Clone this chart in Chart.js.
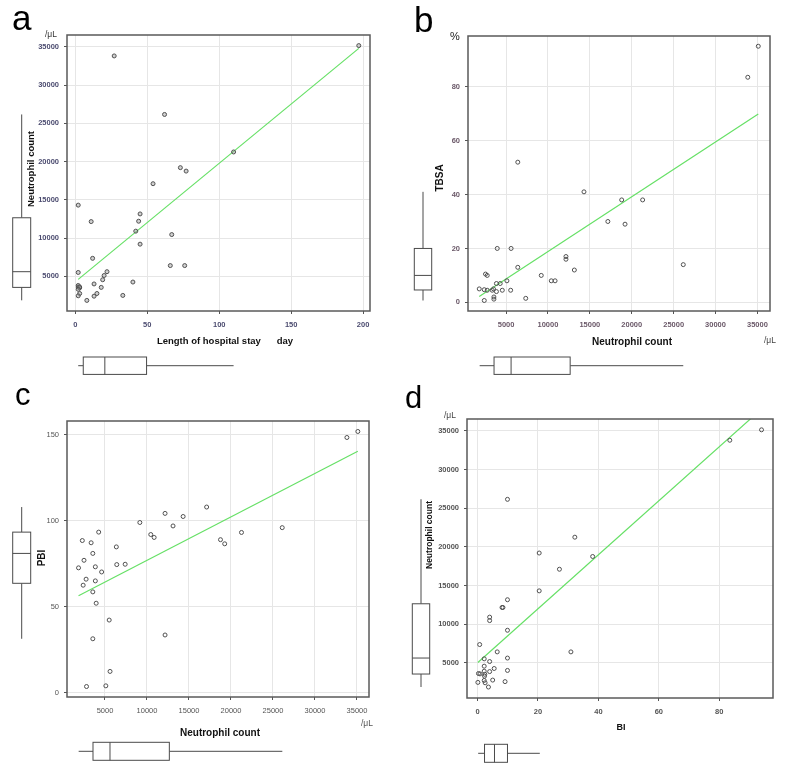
<!DOCTYPE html>
<html>
<head>
<meta charset="utf-8">
<script src="https://cdn.jsdelivr.net/npm/chart.js@4.4.1/dist/chart.umd.min.js"></script>
<style>
  html, body { margin: 0; padding: 0; background: #fff; }
  #fig { position: relative; width: 787px; height: 768px; background: #fff; }
  canvas { position: absolute; }
</style>
</head>
<body>
<div id="fig">
  <canvas id="chartA" width="390" height="385" style="left:0;top:0"></canvas>
  <canvas id="chartB" width="397" height="385" style="left:390px;top:0"></canvas>
  <canvas id="chartC" width="390" height="383" style="left:0;top:385px"></canvas>
  <canvas id="chartD" width="397" height="383" style="left:390px;top:385px"></canvas>
</div>
<script>
const FONT = "'Liberation Sans', Arial, sans-serif";

// ===============================
// a: length of hospital stay vs neutrophil count
// ===============================
const aStay = [197, 27, 62, 110, 73, 77, 54, 2, 45, 44, 11, 42, 67, 45, 12, 66, 76, 2, 22, 20,
  19, 40, 13, 2, 2, 3, 3, 18, 2, 15, 3, 2, 13, 33, 8];
const aNeutro = [35150, 33800, 26150, 21250, 19200, 18750, 17100, 14300, 13150, 12200, 12150, 10900, 10450, 9200, 7350, 6400, 6400, 5500, 5600, 5100,
  4550, 4250, 4000, 3800, 3600, 3500, 3600, 3550, 3300, 2750, 2750, 2450, 2400, 2500, 1850];
const aFit = [4290, 154.8]; // intercept, slope
const aXTicks = [0, 50, 100, 150, 200];
const aYTicks = [5000, 10000, 15000, 20000, 25000, 30000, 35000];
const aBoxNeutro = [1860, 3550, 5600, 12650, 26150]; // min, q1, median, q3, max
const aBoxStay = [2, 5.5, 20.5, 49.5, 110];

// ===============================
// b: neutrophil count vs TBSA
// ===============================
const bNeutro = [35100, 33850, 6400, 14300, 18800, 21300, 17150, 19200, 26150, 12150, 12150, 13150, 9200, 10400, 10850, 6400, 3950, 5600, 5100, 7350,
  5550, 4550, 4300, 3850, 3850, 2550, 2750, 1800, 2400, 2750, 3350, 3500, 3550, 3550, 2400];
const bTbsa = [95, 83.5, 52, 41, 38, 38, 30, 29, 14, 17, 16, 12, 10, 8, 8, 13, 20, 20, 8, 1.5,
  4.5, 4.5, 7, 7, 4, 10.5, 10, 5, 4.7, 4.5, 4.5, 5, 2, 1.2, 0.7];
const bFit = [-1.5, 0.002033];
const bXTicks = [5000, 10000, 15000, 20000, 25000, 30000, 35000];
const bYTicks = [0, 20, 40, 60, 80];
const bBoxTbsa = [0.7, 4.6, 10, 20, 41];
const bBoxNeutro = [1850, 3566, 5600, 12650, 26150];

// ===============================
// c: neutrophil count vs PBI
// ===============================
const cNeutro = [35100, 33800, 17100, 12150, 14300, 9150, 13100, 10450, 10850, 4250, 21250, 26100, 18750, 19250, 2300, 3350, 6350, 3550, 2500, 3850,
  1850, 6400, 7400, 4600, 2750, 3850, 2400, 3550, 3950, 5500, 12150, 3550, 5600, 2800, 5100];
const cPbi = [152, 148.5, 108, 104.3, 102.5, 99, 97, 92, 90.3, 93.4, 93.2, 96, 89, 86.6, 88.5, 87.2, 84.8, 81, 77, 73.2,
  72.6, 74.5, 74.7, 70.2, 66, 65, 62.5, 58.6, 52, 42.2, 33.5, 31.3, 12.3, 3.5, 3.9];
const cFit = [51.7, 0.002529];
const cXTicks = [5000, 10000, 15000, 20000, 25000, 30000, 35000];
const cYTicks = [0, 50, 100, 150];
const cBoxPbi = [31.3, 63.6, 81, 93.4, 108];
const cBoxNeutro = [1865, 3571, 5595, 12659, 26111];

// ===============================
// d: BI vs neutrophil count
// ===============================
const dBi = [94, 83.5, 9.9, 32.2, 20.4, 38.1, 27.1, 20.4, 9.9, 8.1, 8.4, 4, 4, 9.9, 0.7, 6.5, 30.9, 2.2, 9.9, 4,
  2.2, 5.5, 9.9, 2.2, 4, 0.3, 0.8, 2.4, 2.3, 5, 2.2, 9.1, 0.1, 2.5, 3.6];
const dNeutro = [35150, 33800, 26150, 21250, 19200, 18750, 17100, 14300, 13150, 12150, 12150, 10900, 10450, 9200, 7350, 6400, 6400, 5500, 5600, 5150,
  4550, 4250, 4000, 3900, 3850, 3600, 3550, 3500, 3250, 2750, 2700, 2550, 2450, 2400, 1850];
const dFit = [5000, 349.4];
const dXTicks = [0, 20, 40, 60, 80];
const dYTicks = [5000, 10000, 15000, 20000, 25000, 30000, 35000];
const dBoxNeutro = [1853, 3534, 5603, 12629, 26164];
const dBoxBi = [0.2, 2.3, 5.6, 9.9, 20.6];

// boxplot: stats = [min, q1, median, q3, max], drawn on the chart's own scale
function drawBox(ctx, scale, stats, center, half, vertical) {
  const p = stats.map(v => scale.getPixelForValue(v));
  ctx.save();
  ctx.strokeStyle = "#4a4a4a";
  ctx.lineWidth = 1;
  ctx.beginPath();
  if (vertical) {
    ctx.moveTo(center, p[0]); ctx.lineTo(center, p[1]);
    ctx.moveTo(center, p[3]); ctx.lineTo(center, p[4]);
    ctx.stroke();
    ctx.fillStyle = "#fff";
    ctx.fillRect(center - half, p[3], 2 * half, p[1] - p[3]);
    ctx.strokeRect(center - half, p[3], 2 * half, p[1] - p[3]);
    ctx.beginPath();
    ctx.moveTo(center - half, p[2]); ctx.lineTo(center + half, p[2]);
    ctx.stroke();
  } else {
    ctx.moveTo(p[0], center); ctx.lineTo(p[1], center);
    ctx.moveTo(p[3], center); ctx.lineTo(p[4], center);
    ctx.stroke();
    ctx.fillStyle = "#fff";
    ctx.fillRect(p[1], center - half, p[3] - p[1], 2 * half);
    ctx.strokeRect(p[1], center - half, p[3] - p[1], 2 * half);
    ctx.beginPath();
    ctx.moveTo(p[2], center - half); ctx.lineTo(p[2], center + half);
    ctx.stroke();
  }
  ctx.restore();
}

function drawText(ctx, t) {
  ctx.save();
  ctx.fillStyle = t.color || "#111";
  ctx.font = (t.bold ? "bold " : "") + t.size + "px " + FONT;
  ctx.textAlign = t.align || "center";
  ctx.textBaseline = t.base || "middle";
  ctx.translate(t.x, t.y);
  if (t.rot) ctx.rotate(-Math.PI / 2);
  ctx.fillText(t.text, 0, 0);
  ctx.restore();
}

function makePanel(id, p) {
  const canvas = document.getElementById(id);
  const W = canvas.width, H = canvas.height;
  const points = p.xs.map((x, i) => ({ x: x, y: p.ys[i] }));
  const x0 = Math.min(...p.xs), x1 = Math.max(...p.xs);
  const fitLine = [x0, x1].map(x => ({ x: x, y: p.fit[0] + p.fit[1] * x }));

  const decor = {
    id: "decor",
    afterDraw(chart) {
      const { ctx, chartArea: a, scales } = chart;
      ctx.save();
      ctx.strokeStyle = "#5a5a5a";
      ctx.lineWidth = 1.5;
      ctx.strokeRect(a.left, a.top, a.right - a.left, a.bottom - a.top);
      ctx.restore();
      drawBox(ctx, scales.y, p.boxY, p.boxYAt[0], p.boxYAt[1], true);
      drawBox(ctx, scales.x, p.boxX, p.boxXAt[0], p.boxXAt[1], false);
      p.texts.forEach(t => drawText(ctx, t));
    }
  };

  const axis = (min, max, ticks, fit) => ({
    type: "linear",
    min: min,
    max: max,
    afterBuildTicks: s => { s.ticks = ticks.map(v => ({ value: v })); },
    afterFit: fit,
    border: { display: false },
    grid: { color: "#e6e6e6", lineWidth: 1, tickColor: "#555", tickLength: 3 },
    ticks: {
      autoSkip: false, maxRotation: 0, padding: 5,
      color: p.tickColor,
      font: { family: FONT, size: 7.5, weight: p.tickWeight },
      callback: v => String(v)
    }
  });

  const xAxis = axis(p.xRange[0], p.xRange[1], p.xTicks, s => { s.height = H - p.area.bottom; });
  xAxis.ticks.padding = 6;
  const yAxis = axis(p.yRange[0], p.yRange[1], p.yTicks, s => { s.width = p.area.left; });

  new Chart(canvas, {
    type: "scatter",
    data: {
      datasets: [
        {
          data: points,
          pointRadius: 2,
          pointBorderWidth: 1,
          pointBorderColor: "#505050",
          pointBackgroundColor: p.pointFill
        },
        {
          type: "line",
          data: fitLine,
          showLine: true,
          borderColor: "#66e066",
          borderWidth: 1.2,
          pointRadius: 0,
          fill: false
        }
      ]
    },
    options: {
      responsive: false,
      animation: false,
      layout: { padding: { left: 0, top: p.area.top, right: W - p.area.right, bottom: 0 } },
      plugins: { legend: { display: false }, tooltip: { enabled: false } },
      scales: { x: xAxis, y: yAxis }
    },
    plugins: [decor]
  });
}

// --- Panel a ---
makePanel("chartA", {
  xs: aStay, ys: aNeutro, fit: aFit,
  xRange: [-5.8, 204.8], yRange: [464, 36536],
  xTicks: aXTicks, yTicks: aYTicks,
  area: { left: 67, top: 35, right: 370, bottom: 311 },
  tickColor: "#4c4c70", tickWeight: "bold",
  pointFill: "rgba(150,150,150,0.45)",
  boxY: aBoxNeutro, boxYAt: [21.7, 9],
  boxX: aBoxStay, boxXAt: [365.7, 8.7],
  texts: [
    { text: "a", x: 12, y: 30, size: 35, align: "left", base: "alphabetic", color: "#000" },
    { text: "/μL", x: 51, y: 35, size: 8.5, color: "#333" },
    { text: "Neutrophil count", x: 31, y: 169, size: 9.5, bold: true, rot: true },
    { text: "Length of hospital stay      day", x: 225, y: 341, size: 9.5, bold: true }
  ]
});

// --- Panel b ---
makePanel("chartB", {
  xs: bNeutro, ys: bTbsa, fit: bFit,
  xRange: [458, 36500], yRange: [-3.2, 98.8],
  xTicks: bXTicks, yTicks: bYTicks,
  area: { left: 78, top: 36, right: 380, bottom: 311 },
  tickColor: "#6a5868", tickWeight: "bold",
  pointFill: "rgba(255,255,255,0)",
  boxY: bBoxTbsa, boxYAt: [33, 8.7],
  boxX: bBoxNeutro, boxXAt: [365.7, 8.7],
  texts: [
    { text: "b", x: 24, y: 32, size: 35, align: "left", base: "alphabetic", color: "#000" },
    { text: "%", x: 65, y: 37, size: 11, color: "#222" },
    { text: "/μL", x: 380, y: 341, size: 8.5, color: "#444" },
    { text: "TBSA", x: 50, y: 178, size: 10, bold: true, rot: true },
    { text: "Neutrophil count", x: 242, y: 342, size: 10, bold: true }
  ]
});

// --- Panel c ---
makePanel("chartC", {
  xs: cNeutro, ys: cPbi, fit: cFit,
  xRange: [476, 36430], yRange: [-2.6, 158.1],
  xTicks: cXTicks, yTicks: cYTicks,
  area: { left: 67, top: 36, right: 369, bottom: 312 },
  tickColor: "#555", tickWeight: "normal",
  pointFill: "rgba(255,255,255,0)",
  boxY: cBoxPbi, boxYAt: [21.7, 9],
  boxX: cBoxNeutro, boxXAt: [366.3, 9],
  texts: [
    { text: "c", x: 15, y: 20, size: 31, align: "left", base: "alphabetic", color: "#000" },
    { text: "/μL", x: 367, y: 339, size: 8.5, color: "#555" },
    { text: "PBI", x: 42, y: 173, size: 10, bold: true, rot: true },
    { text: "Neutrophil count", x: 220, y: 348, size: 10, bold: true }
  ]
});

// --- Panel d ---
makePanel("chartD", {
  xs: dBi, ys: dNeutro, fit: dFit,
  xRange: [-3.5, 97.8], yRange: [430, 36550],
  xTicks: dXTicks, yTicks: dYTicks,
  area: { left: 77, top: 34, right: 383, bottom: 313 },
  tickColor: "#555", tickWeight: "bold",
  pointFill: "rgba(255,255,255,0)",
  boxY: dBoxNeutro, boxYAt: [31, 8.7],
  boxX: dBoxBi, boxXAt: [368.3, 9],
  texts: [
    { text: "d", x: 15, y: 22.7, size: 31, align: "left", base: "alphabetic", color: "#000" },
    { text: "/μL", x: 60, y: 31, size: 8.5, color: "#444" },
    { text: "Neutrophil count", x: 39.3, y: 150, size: 8.5, bold: true, rot: true },
    { text: "BI", x: 231, y: 343, size: 9, bold: true }
  ]
});
</script>
</body>
</html>
